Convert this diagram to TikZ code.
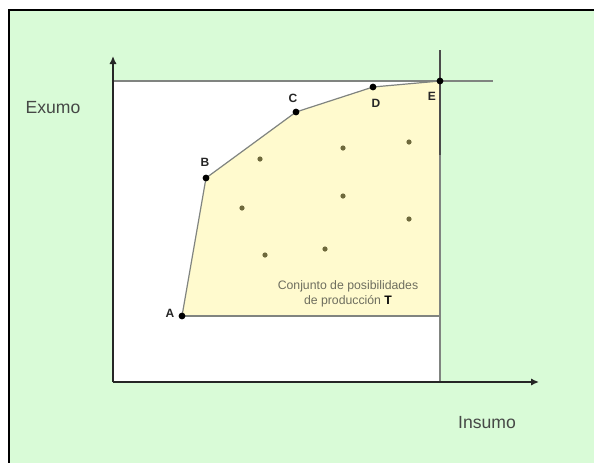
\documentclass[tikz,border=0pt]{standalone}
\usepackage{fontspec}
\setmainfont{Liberation Sans}
\usetikzlibrary{arrows.meta}
\definecolor{bggreen}{RGB}{217,251,215}
\definecolor{regyellow}{RGB}{255,250,206}
\definecolor{edgegray}{RGB}{128,132,128}
\definecolor{dotolive}{RGB}{110,105,60}
\definecolor{txtgray}{RGB}{70,72,70}
\definecolor{settxt}{RGB}{110,110,95}
\begin{document}
\begin{tikzpicture}[x=0.75pt,y=-0.75pt,
  edge/.style={draw=edgegray,line width=0.9pt},
  axis/.style={draw=black!85,line width=2.1pt,-{Latex[length=6pt,width=5.5pt]}},
  ptlabel/.style={font=\fontsize{9}{10}\selectfont\bfseries,text=black!85,inner sep=0pt},
  axlabel/.style={font=\fontsize{13.2}{15}\selectfont,text=txtgray,inner sep=0pt},
  bigdot/.style={fill=black},
  smalldot/.style={fill=dotolive}]
\useasboundingbox (0,0) rectangle (594,462);
\fill[white] (0,0) rectangle (594,462);
\fill[bggreen] (9,10) rectangle (600,470);
\draw[black,line width=1.1pt] (9,470) -- (9,10) -- (600,10);
% white quadrant
\fill[white] (113,81) rectangle (440,382);
% coordinates
\coordinate (O) at (113,382);
\coordinate (A) at (182,316);
\coordinate (B) at (206,178);
\coordinate (C) at (296,112);
\coordinate (D) at (373,87);
\coordinate (E) at (440,81);
\coordinate (F) at (440,316);
\coordinate (Htl) at (113,81);
\coordinate (Htr) at (493,81);
\coordinate (Vt) at (440,50);
\coordinate (Vb) at (440,382);
\coordinate (Xe) at (539,382);
\coordinate (Ye) at (113,56);
% region
\fill[regyellow] (A) -- (B) -- (C) -- (D) -- (E) -- (F) -- cycle;
\draw[edge] (A) -- (B) -- (C) -- (D) -- (E);
\draw[edge] (A) -- (F);
\draw[edge] (Htl) -- (Htr);
\draw[edge] (Vt) -- (Vb);
\draw[draw=black!70,line width=0.9pt] (Vt) -- (440,155);
% axes
\draw[axis] (O) -- (Xe);
\draw[axis] (O) -- (Ye);
% interior points
\foreach \p/\q in {260/159,343/148,409/142,242/208,343/196,409/219,265/255,325/249}
  \fill[smalldot] (\p,\q) circle (2.6);
% frontier points
\foreach \n in {A,B,C,D,E}
  \fill[bigdot] (\n) circle (3.4);
% labels
\node[ptlabel] (lA) at (170,313) {A};
\node[ptlabel] (lB) at (205,162) {B};
\node[ptlabel] (lC) at (293,98) {C};
\node[ptlabel] (lD) at (376,103) {D};
\node[ptlabel] (lE) at (432,96) {E};
\node[axlabel] (ex) at (53,108) {Exumo};
\node[axlabel] (in) at (487,423) {Insumo};
\node[align=center,inner sep=0pt,text=settxt,font=\fontsize{9.2}{11.5}\selectfont] (T) at (348,294)
  {Conjunto de posibilidades\\de producción {\color{black}\bfseries T}};
\end{tikzpicture}
\end{document}
